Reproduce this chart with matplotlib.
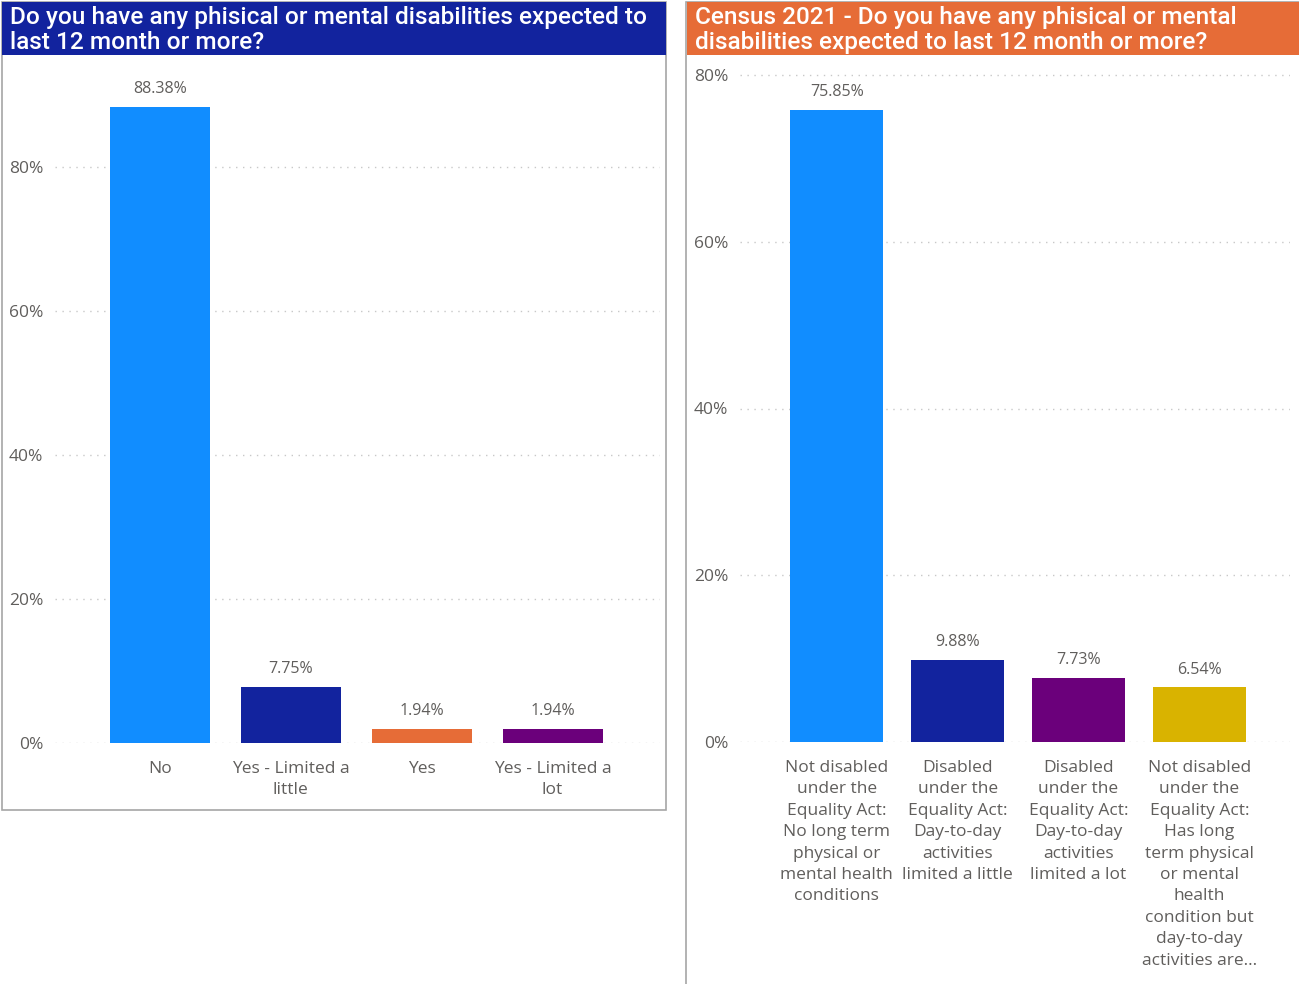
import numpy as np
import matplotlib.pyplot as plt
from matplotlib.patches import Rectangle
from matplotlib.ticker import FuncFormatter

# =========================
# Data
# =========================
survey_cats = ["No", "Yes - Limited a\nlittle", "Yes", "Yes - Limited a\nlot"]
survey_vals = [88.38, 7.75, 1.94, 1.94]
survey_colors = ["#118DFF", "#12239E", "#E66C37", "#6B007B"]

census_cats = [
    "Not disabled\nunder the\nEquality Act:\nNo long term\nphysical or\nmental health\nconditions",
    "Disabled\nunder the\nEquality Act:\nDay-to-day\nactivities\nlimited a little",
    "Disabled\nunder the\nEquality Act:\nDay-to-day\nactivities\nlimited a lot",
    "Not disabled\nunder the\nEquality Act:\nHas long\nterm physical\nor mental\nhealth\ncondition but\nday-to-day\nactivities are...",
]
census_vals = [75.85, 9.88, 7.73, 6.54]
census_colors = ["#118DFF", "#12239E", "#6B007B", "#D9B300"]

left_title = "Do you have any phisical or mental disabilities expected to\nlast 12 month or more?"
right_title = "Census 2021 - Do you have any phisical or mental\ndisabilities expected to last 12 month or more?"

W, H = 1299, 984
plt.rcParams['font.family'] = ['Open Sans', 'DejaVu Sans']
fig = plt.figure(figsize=(W / 100, H / 100), dpi=100)


def box(x0, y0, x1, y1):
    # pixel box (top-left origin) -> figure fraction rect
    return [x0 / W, 1 - y1 / H, (x1 - x0) / W, (y1 - y0) / H]


def frac(x, y):
    return x / W, 1 - y / H


# panel frames and title bands
fig.patches.append(Rectangle(frac(2, 810), 664 / W, 808 / H, transform=fig.transFigure,
                             facecolor="none", edgecolor="#A6A6A6", lw=1.2, zorder=0))
fig.patches.append(Rectangle(frac(686, 990), 620 / W, 988 / H, transform=fig.transFigure,
                             facecolor="none", edgecolor="#A6A6A6", lw=1.2, zorder=0))
fig.patches.append(Rectangle(frac(2, 55), 664 / W, 53 / H, transform=fig.transFigure,
                             facecolor="#12239E", edgecolor="none", zorder=1))
fig.patches.append(Rectangle(frac(687, 55), 612 / W, 53 / H, transform=fig.transFigure,
                             facecolor="#E66C37", edgecolor="none", zorder=1))
fig.text(*frac(10, 30), left_title, color="white", fontsize=17.6, family="Roboto",
         weight="medium", va="center", ha="left", linespacing=1.06, zorder=2)
fig.text(*frac(695, 30), right_title, color="white", fontsize=17.6, family="Roboto",
         weight="medium", va="center", ha="left", linespacing=1.06, zorder=2)


def draw_panel(rect, cats, vals, colors, ymax, ticks, xlim):
    ax = fig.add_axes(rect, zorder=5)
    x = np.arange(len(cats))
    ax.bar(x, vals, width=0.765, color=colors, zorder=3)
    for xi, v in zip(x, vals):
        ax.annotate(f"{v:.2f}%", (xi, v), xytext=(0, 7), textcoords="offset points",
                    ha="center", va="bottom", fontsize=11.5, color="#605E5C")
    ax.set_xlim(*xlim)
    ax.set_ylim(0, ymax)
    ax.set_yticks(ticks)
    ax.yaxis.set_major_formatter(FuncFormatter(lambda v, p: f"{v:.0f}%"))
    ax.set_xticks(x)
    ax.set_xticklabels(cats, linespacing=1.45)
    ax.grid(axis="y", linestyle=(0, (1, 4)), color="#C8C8C8", lw=1, zorder=0)
    ax.tick_params(length=0, labelsize=12.5, colors="#605E5C")
    ax.tick_params(axis="x", pad=13)
    ax.tick_params(axis="y", pad=8.5)
    for s in ax.spines.values():
        s.set_visible(False)
    ax.set_facecolor("none")
    return ax


# left: 0% at y=743, 80% at y=167 (7.2 px per %)
draw_panel(box(55, 70, 660, 743), survey_cats, survey_vals, survey_colors,
           (743 - 70) / 7.2, [0, 20, 40, 60, 80], (-0.80, 3.82))
# right: 0% at y=742, 80% at y=75 (8.34 px per %)
draw_panel(box(740, 65, 1290, 742), census_cats, census_vals, census_colors,
           (742 - 65) / 8.3375, [0, 20, 40, 60, 80], (-0.80, 3.75))

fig.savefig("out.png", dpi=100)
